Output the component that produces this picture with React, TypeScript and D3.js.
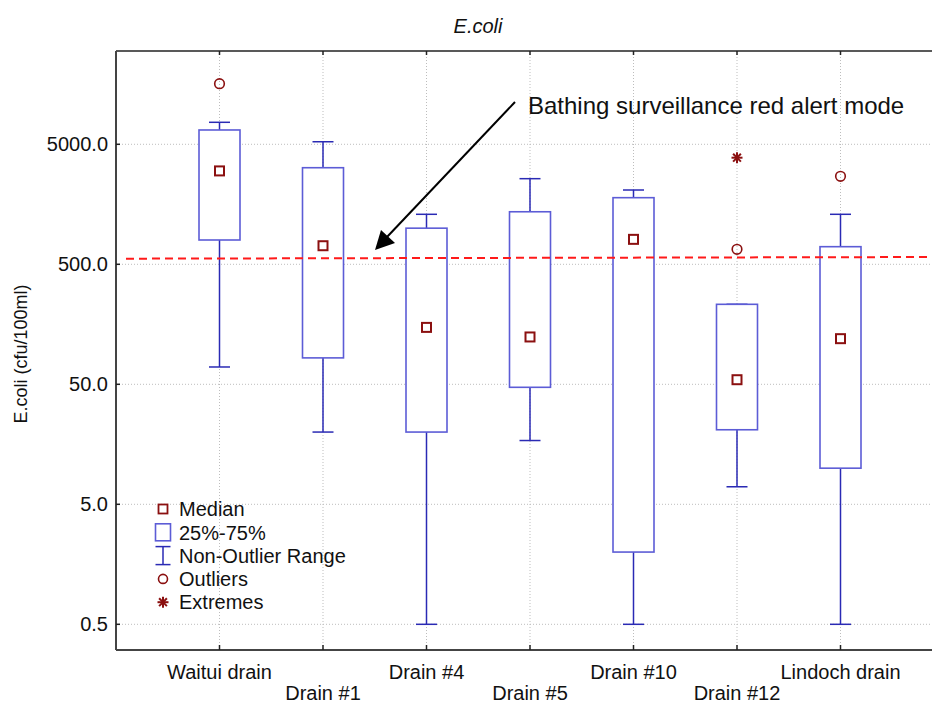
import React from "react";
import * as d3 from "d3";

const categories = ["Waitui drain", "Drain #1", "Drain #4", "Drain #5", "Drain #10", "Drain #12", "Lindoch drain"];
const medians = [3000, 714, 149, 124, 807, 54.6, 120];
const q1 = [797, 83, 20, 47.2, 2.0, 20.9, 10];
const q3 = [6580, 3190, 1000, 1370, 1795, 232, 701];
const whiskerLow = [69.7, 20, 0.5, 17, 0.5, 7, 0.5];
const whiskerHigh = [7625, 5250, 1305, 2585, 2080, 232, 1305];
const outliers = [
  { cat: "Waitui drain", v: 16000 },
  { cat: "Drain #12", v: 667 },
  { cat: "Lindoch drain", v: 2705 },
];
const extremes = [{ cat: "Drain #12", v: 3866 }];
const yTicks = [0.5, 5, 50, 500, 5000];
const redAlert = [557, 575];
const legendItems = ["Median", "25%-75%", "Non-Outlier Range", "Outliers", "Extremes"];

const W = 932, H = 704;
const left = 116, right = 944, top = 51, bottom = 650;
const FONT = "'Liberation Sans', Arial, sans-serif";
const BOX = "#5c5cd6";
const WHISK = "#2a2ab4";
const DARKRED = "#8b1010";

export default function App() {
  const x = d3.scalePoint<string>().domain(categories).range([left, right]).padding(1);
  const y = d3.scaleLog().domain([0.3054, 29950]).range([bottom, top]);
  const fmt = d3.format(".1f");
  const boxW = 41, capW = 21;

  const asterisk = (cx: number, cy: number, r: number, key: string) => (
    <g key={key} stroke={DARKRED} strokeWidth={2}>
      {[0, 45, 90, 135].map((a) => {
        const rad = (a * Math.PI) / 180;
        return <line key={a} x1={cx - r * Math.cos(rad)} y1={cy - r * Math.sin(rad)} x2={cx + r * Math.cos(rad)} y2={cy + r * Math.sin(rad)} />;
      })}
    </g>
  );

  const legendX = 163, legendY0 = 509, legendStep = 23.3;

  return (
    <svg width={W} height={H} style={{ position: "absolute", left: 0, top: 0, background: "#fff" }} fontFamily={FONT}>
      {/* grid */}
      {yTicks.map((t) => (
        <line key={"gy" + t} x1={left} x2={right} y1={y(t)} y2={y(t)} stroke="#bdbdbd" strokeWidth={1} strokeDasharray="1,2" />
      ))}
      {categories.map((c) => (
        <line key={"gx" + c} x1={x(c)} x2={x(c)} y1={top} y2={bottom} stroke="#bdbdbd" strokeWidth={1} strokeDasharray="1,2" />
      ))}
      {/* axes */}
      <line x1={left} x2={right} y1={top} y2={top} stroke="#222" strokeWidth={1.5} />
      <line x1={left} x2={right} y1={bottom} y2={bottom} stroke="#444" strokeWidth={2} />
      <line x1={left} x2={left} y1={top} y2={bottom} stroke="#444" strokeWidth={2} />
      {yTicks.map((t) => (
        <g key={"ty" + t}>
          <line x1={left} x2={left + 4} y1={y(t)} y2={y(t)} stroke="#222" strokeWidth={1.5} />
          <text x={108} y={y(t)} dy="0.35em" textAnchor="end" fontSize={20} fill="#111">{fmt(t)}</text>
        </g>
      ))}
      {categories.map((c, i) => (
        <g key={"tx" + c}>
          <line x1={x(c)} x2={x(c)} y1={top} y2={top + 4} stroke="#222" strokeWidth={1.5} />
          <line x1={x(c)} x2={x(c)} y1={bottom} y2={bottom - 5} stroke="#222" strokeWidth={1.5} />
          <text x={x(c)} y={i % 2 === 0 ? 679 : 700} textAnchor="middle" fontSize={20} fill="#111">{c}</text>
        </g>
      ))}
      {/* boxes */}
      {categories.map((c, i) => {
        const cx = x(c)!;
        return (
          <g key={"b" + c}>
            <line x1={cx} x2={cx} y1={y(whiskerHigh[i])} y2={y(q3[i])} stroke={WHISK} strokeWidth={1.5} />
            <line x1={cx} x2={cx} y1={y(q1[i])} y2={y(whiskerLow[i])} stroke={WHISK} strokeWidth={1.5} />
            <line x1={cx - capW / 2} x2={cx + capW / 2} y1={y(whiskerHigh[i])} y2={y(whiskerHigh[i])} stroke={WHISK} strokeWidth={1.5} />
            <line x1={cx - capW / 2} x2={cx + capW / 2} y1={y(whiskerLow[i])} y2={y(whiskerLow[i])} stroke={WHISK} strokeWidth={1.5} />
            <rect x={cx - boxW / 2} y={y(q3[i])} width={boxW} height={y(q1[i]) - y(q3[i])} fill="#fff" stroke={BOX} strokeWidth={1.6} />
            <rect x={cx - 4.5} y={y(medians[i]) - 4.5} width={9} height={9} fill="#fff" stroke={DARKRED} strokeWidth={2} />
          </g>
        );
      })}
      {outliers.map((o, k) => (
        <circle key={"o" + k} cx={x(o.cat)} cy={y(o.v)} r={4.8} fill="none" stroke={DARKRED} strokeWidth={1.6} />
      ))}
      {extremes.map((e, k) => asterisk(x(e.cat)!, y(e.v), 5.5, "e" + k))}
      {/* red alert line */}
      <line x1={126} x2={W} y1={y(redAlert[0])} y2={y(redAlert[1])} stroke="#ff1a1a" strokeWidth={2} strokeDasharray="8,5" />
      {/* annotation */}
      <line x1={515} y1={102} x2={387} y2={237} stroke="#000" strokeWidth={2} />
      <polygon points="375,250 381,230 395,243" fill="#000" />
      <text x={528} y={114} fontSize={24} fill="#111">Bathing surveillance red alert mode</text>
      {/* title */}
      <text x={478} y={33} textAnchor="middle" fontSize={20} fontStyle="italic" fill="#111">E.coli</text>
      {/* y label */}
      <text transform={`translate(27,${354}) rotate(-90)`} textAnchor="middle" fontSize={18} fill="#111">E.coli (cfu/100ml)</text>
      {/* legend */}
      {legendItems.map((t, i) => {
        const cy = legendY0 + i * legendStep;
        let sym: React.ReactNode = null;
        if (i === 0) sym = <rect x={legendX - 4.5} y={cy - 4.5} width={9} height={9} fill="#fff" stroke={DARKRED} strokeWidth={1.8} />;
        if (i === 1) sym = <rect x={legendX - 7.5} y={cy - 8.5} width={15} height={17} fill="#fff" stroke={BOX} strokeWidth={1.6} />;
        if (i === 2)
          sym = (
            <g stroke={WHISK} strokeWidth={1.5}>
              <line x1={legendX - 7.5} x2={legendX + 7.5} y1={cy - 9} y2={cy - 9} />
              <line x1={legendX - 7.5} x2={legendX + 7.5} y1={cy + 9} y2={cy + 9} />
              <line x1={legendX} x2={legendX} y1={cy - 9} y2={cy + 9} />
            </g>
          );
        if (i === 3) sym = <circle cx={legendX} cy={cy} r={4.5} fill="none" stroke={DARKRED} strokeWidth={1.6} />;
        if (i === 4) sym = asterisk(legendX, cy, 5.5, "le");
        return (
          <g key={"l" + t}>
            {sym}
            <text x={179} y={cy} dy="0.36em" fontSize={20} fill="#111">{t}</text>
          </g>
        );
      })}
    </svg>
  );
}
